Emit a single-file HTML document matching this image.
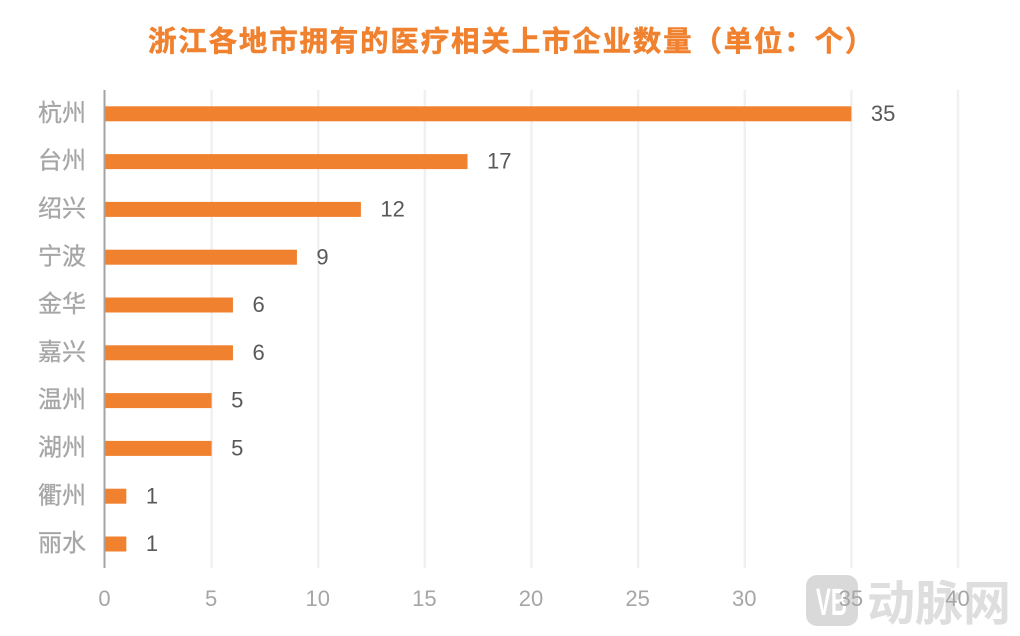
<!DOCTYPE html>
<html lang="zh">
<head>
<meta charset="utf-8">
<title>浙江各地市拥有的医疗相关上市企业数量</title>
<style>
html,body{margin:0;padding:0;background:#fff;width:1020px;height:636px;overflow:hidden}
svg{display:block}
text{font-family:"Liberation Sans","Noto Sans CJK SC",sans-serif}
</style>
</head>
<body>
<svg id="chart" width="1020" height="636" viewBox="0 0 1020 636" xmlns="http://www.w3.org/2000/svg">
<text x="148" y="51" font-size="28.5" font-weight="700" fill="#f0812f" stroke="#f0812f" stroke-width="0.5" letter-spacing="1.8">浙江各地市拥有的医疗相关上市企业数量（单位：个）</text>
<g id="grid"></g>
<g id="watermark">
<rect x="806" y="575" width="52" height="51" rx="11" fill="#d9d9d9"></rect>
<text x="816" y="615" font-size="38" font-weight="700" fill="#ffffff" textLength="31" lengthAdjust="spacingAndGlyphs">VB</text>
<text x="867" y="620" font-size="48" font-weight="700" fill="#dedede">动脉网</text>
</g>
<g id="bars"></g>
<g id="axis"></g>
</svg>
<script>
const categories = ['杭州','台州','绍兴','宁波','金华','嘉兴','温州','湖州','衢州','丽水'];
const values = [35,17,12,9,6,6,5,5,1,1];
const xTicks = [0,5,10,15,20,25,30,35,40];

const NS = 'http://www.w3.org/2000/svg';
const plot = {left:105, right:958, top:90, bottom:568, max:40};
const x = v => plot.left + (v / plot.max) * (plot.right - plot.left);
const bandH = () => (plot.bottom - plot.top) / categories.length;
const yCenter = i => plot.top + bandH() * (i + 0.5);

function mk(tag, attrs, parent, txt) {
  const el = document.createElementNS(NS, tag);
  for (const k in attrs) el.setAttribute(k, attrs[k]);
  if (txt !== undefined) el.textContent = txt;
  parent.appendChild(el);
  return el;
}

const gGrid = document.getElementById('grid');
const gBars = document.getElementById('bars');
const gAxis = document.getElementById('axis');

xTicks.forEach(t => {
  if (t !== 0) {
    const gl = mk('rect', {x:x(t)-1.25, y:plot.top, width:2.5, height:plot.bottom-plot.top, fill:'#f0f0f0'}, gGrid);
    
    
  }
  const lab = mk('text', {x:x(t)-0.5, y:606, 'font-size':22, fill:'#a6a6a6', 'text-anchor':'middle'}, gAxis, String(t));
  
  
});

const axisLine = mk('rect', {x:plot.left-1.5, y:plot.top, width:2, height:plot.bottom-plot.top, fill:'#a3a3a3'}, gAxis);



categories.forEach((c, i) => {
  const yc = yCenter(i);
  const bar = mk('rect', {x:plot.left, y:yc-7.6, width:x(values[i])-plot.left, height:15, fill:'#f0812f'}, gBars);
  
  
  const val = mk('text', {x:x(values[i])+19.5, y:yc+7, 'font-size':22, fill:'#595959'}, gBars, String(values[i]));
  
  
  const cat = mk('text', {x:86, y:yc+7, 'font-size':24, fill:'#a6a6a6', stroke:'#a6a6a6', 'stroke-width':0.3, 'text-anchor':'end'}, gAxis, c);
  
  
});
</script>
</body>
</html>
